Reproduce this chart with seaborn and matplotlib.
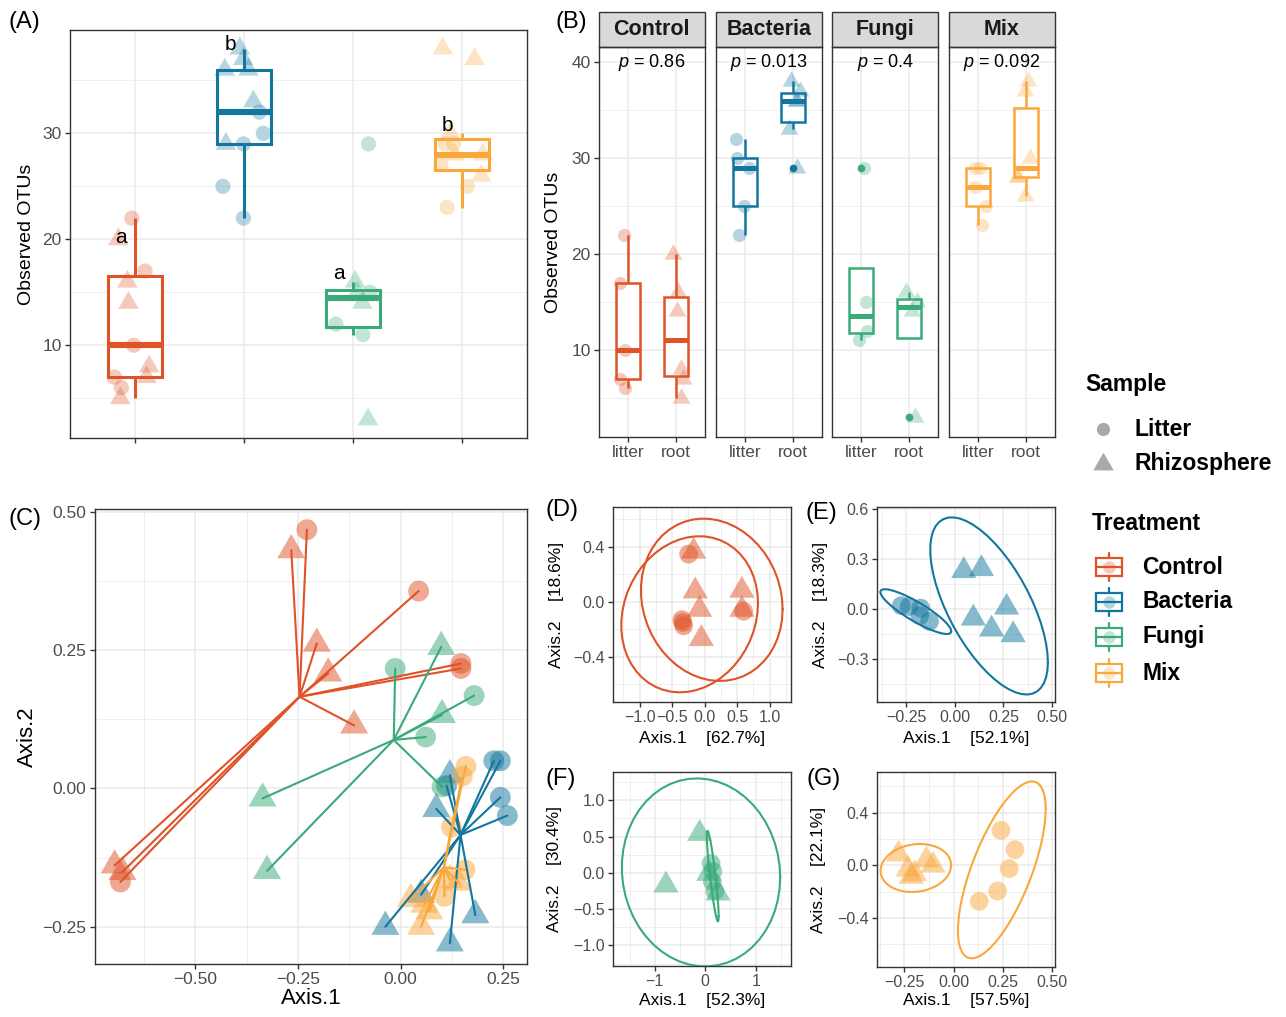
import numpy as np
import pandas as pd
import matplotlib
matplotlib.use("Agg")
import matplotlib.pyplot as plt
import seaborn as sns
from matplotlib.lines import Line2D
from matplotlib.patches import Rectangle
from matplotlib.ticker import MultipleLocator, FuncFormatter, NullLocator

sns.set_theme(style="white")
plt.rcParams["font.family"] = ["Liberation Sans", "DejaVu Sans"]
plt.rcParams["mathtext.fontset"] = "custom"
plt.rcParams["mathtext.rm"] = "Liberation Sans"
plt.rcParams["mathtext.it"] = "Liberation Sans:italic"
plt.rcParams["axes.unicode_minus"] = True

# ------------------------------------------------------------------ data
treatments = ["Control", "Bacteria", "Fungi", "Mix"]
samples = ["Litter", "Rhizosphere"]
sample_ticks = ["litter", "root"]
palette = {"Control": "#E05227", "Bacteria": "#12769E",
           "Fungi": "#3AAA78", "Mix": "#FAA83C"}

# observed OTUs per treatment
otus_litter = {"Control": [6, 7, 10, 17, 22],
               "Bacteria": [22, 25, 29, 30, 32],
               "Fungi": [11, 12, 15, 29],
               "Mix": [23, 25, 27, 29, 29]}
otus_root = {"Control": [5, 7, 8, 14, 16, 20],
             "Bacteria": [29, 33, 36, 36, 37, 38],
             "Fungi": [3, 14, 15, 16],
             "Mix": [26, 28, 28, 30, 37, 38]}
group_letters = ["a", "b", "a", "b"]
letter_y = [20.2, 38.4, 16.8, 30.7]
wilcox_p = [0.86, 0.013, 0.4, 0.092]

# PCoA of all samples
all_litter_ax1 = {"Control": [-0.228, 0.044, 0.147, 0.147, -0.682],
                  "Bacteria": [0.227, 0.243, 0.243, 0.260, 0.112],
                  "Fungi": [-0.013, 0.179, 0.061, 0.101],
                  "Mix": [0.159, 0.150, 0.124, 0.157, 0.107]}
all_litter_ax2 = {"Control": [0.468, 0.357, 0.226, 0.217, -0.169],
                  "Bacteria": [0.050, 0.050, -0.016, -0.049, 0.005],
                  "Fungi": [0.217, 0.168, 0.093, 0.003],
                  "Mix": [0.040, 0.022, -0.070, -0.147, -0.195]}
all_root_ax1 = {"Control": [-0.266, -0.204, -0.176, -0.113, -0.696, -0.677],
                "Bacteria": [0.120, 0.087, -0.037, 0.182, 0.120, 0.050],
                "Fungi": [0.099, 0.101, -0.336, -0.325],
                "Mix": [0.025, 0.058, 0.070, 0.050, 0.120, 0.140]}
all_root_ax2 = {"Control": [0.431, 0.262, 0.208, 0.114, -0.139, -0.151],
                "Bacteria": [0.024, -0.037, -0.250, -0.229, -0.280, -0.192],
                "Fungi": [0.256, 0.133, -0.018, -0.149],
                "Mix": [-0.200, -0.210, -0.222, -0.250, -0.165, -0.170]}

# PCoA within each treatment
sub_litter_ax1 = {"Control": [-0.246, 0.600, -0.349, -0.323, -0.335],
                  "Bacteria": [-0.275, -0.235, -0.175, -0.180, -0.130],
                  "Fungi": [0.115, 0.150, 0.140, 0.190],
                  "Mix": [0.239, 0.310, 0.281, 0.222, 0.129]}
sub_litter_ax2 = {"Control": [0.347, -0.068, -0.130, -0.174, -0.150],
                  "Bacteria": [0.020, 0.015, 0.005, -0.040, -0.075],
                  "Fungi": [0.130, 0.020, -0.120, -0.250],
                  "Mix": [0.266, 0.119, -0.025, -0.195, -0.273]}
sub_root_ax1 = {"Control": [-0.169, -0.144, -0.077, 0.574, 0.574, -0.051],
                "Bacteria": [0.046, 0.137, 0.266, 0.095, 0.189, 0.300],
                "Fungi": [-0.780, -0.112, 0.066, 0.250],
                "Mix": [-0.280, -0.232, -0.198, -0.215, -0.139, -0.105]}
sub_root_ax2 = {"Control": [0.367, 0.078, -0.056, 0.083, -0.056, -0.269],
                "Bacteria": [0.230, 0.242, 0.010, -0.056, -0.122, -0.156],
                "Fungi": [-0.170, 0.541, -0.010, -0.280],
                "Mix": [0.085, -0.030, -0.065, -0.085, 0.040, 0.000]}
sub_pct1 = {"Control": 62.7, "Bacteria": 52.1, "Fungi": 52.3, "Mix": 57.5}
sub_pct2 = {"Control": 18.6, "Bacteria": 18.3, "Fungi": 30.4, "Mix": 22.1}

# ------------------------------------------------------------------ tables
otu = pd.DataFrame(
    [(t, "Litter", v) for t in treatments for v in otus_litter[t]] +
    [(t, "Rhizosphere", v) for t in treatments for v in otus_root[t]],
    columns=["Treatment", "Sample", "OTUs"])


def pcoa_table(l1, l2, r1, r2):
    rows = []
    for t in treatments:
        rows += [(t, "Litter", a, b) for a, b in zip(l1[t], l2[t])]
        rows += [(t, "Rhizosphere", a, b) for a, b in zip(r1[t], r2[t])]
    return pd.DataFrame(rows, columns=["Treatment", "Sample", "Axis.1", "Axis.2"])


pc_all = pcoa_table(all_litter_ax1, all_litter_ax2, all_root_ax1, all_root_ax2)
pc_sub = pcoa_table(sub_litter_ax1, sub_litter_ax2, sub_root_ax1, sub_root_ax2)

# ------------------------------------------------------------------ helpers
W, H = 1286, 1017
fig = plt.figure(figsize=(W / 100, H / 100), dpi=100)
fig.patch.set_facecolor("white")

GRID, FRAME, TICKTXT = "#EBEBEB", "#333333", "#4D4D4D"
# R-style filled triangle (centroid at the data point)
TRI = [(0.0, 1.5551), (-1.3468, -0.7776), (1.3468, -0.7776)]
TRI_SCALE = 1.5551


def rect(x0, y0, x1, y1):
    return [x0 / W, 1 - y1 / H, (x1 - x0) / W, (y1 - y0) / H]


def decimals(n):
    def f(v, pos):
        s = f"{v:.{n}f}"
        if float(s) == 0:
            s = f"{0:.{n}f}"
        return s.replace("-", "\u2212")
    return FuncFormatter(f)


def theme_bw(ax, ticksize):
    ax.set_facecolor("white")
    for sp in ax.spines.values():
        sp.set_visible(True)
        sp.set_color(FRAME)
        sp.set_linewidth(1.0)
    ax.grid(True, which="major", color=GRID, linewidth=1.1)
    ax.grid(True, which="minor", color=GRID, linewidth=0.55)
    ax.set_axisbelow(True)
    ax.tick_params(which="major", direction="out", length=3.6, width=1.0,
                   color=FRAME, labelsize=ticksize, labelcolor=TICKTXT, pad=2.5,
                   bottom=True, left=True)
    ax.tick_params(which="minor", length=0, bottom=True, left=True)


def place_labels(ax, ylabel_x=None, xlabel_y=None):
    if ylabel_x is not None:
        bb = ax.get_position()
        ax.yaxis.set_label_coords((ylabel_x / W - bb.x0) / bb.width, 0.5)
        ax.yaxis.label.set_verticalalignment("center")
    if xlabel_y is not None:
        bb = ax.get_position()
        ax.xaxis.set_label_coords(0.5, ((1 - xlabel_y / H) - bb.y0) / bb.height)
        ax.xaxis.label.set_verticalalignment("center")


def cov_trob(X, nu=5, maxit=25, tol=0.01):
    n, p = X.shape
    loc = X.mean(axis=0)
    w = np.ones(n)
    for _ in range(maxit):
        w0 = w
        Xc = X - loc
        _, d, vt = np.linalg.svd(np.sqrt(w / w.sum())[:, None] * Xc, full_matrices=False)
        wX = Xc @ vt.T @ np.diag(1 / d)
        Q = (wX ** 2).sum(axis=1)
        w = (nu + p) / (nu + Q)
        loc = (w[:, None] * X).sum(axis=0) / w.sum()
        if np.all(np.abs(w - w0) < tol):
            break
    sw = np.sqrt(w)[:, None] * Xc
    return loc, sw.T @ sw / n


def t_ellipse(x, y, level=0.95, segments=51):
    X = np.column_stack([x, y])
    center, shape = cov_trob(X)
    dfd = len(X) - 1
    fq = dfd / 2 * ((1 - level) ** (-2 / dfd) - 1)
    radius = np.sqrt(2 * fq)
    ang = np.linspace(0, 2 * np.pi, segments + 1)
    unit = np.column_stack([np.cos(ang), np.sin(ang)])
    pts = center + radius * (unit @ np.linalg.cholesky(shape).T)
    return pts[:, 0], pts[:, 1]


def tag(x, y, s):
    fig.text(x / W, 1 - y / H, s, ha="center", va="center", fontsize=17, color="black")


np.random.seed(11)

# ------------------------------------------------------------------ (A)
axA = fig.add_axes(rect(70, 30, 527, 438))
for t in treatments:
    sns.boxplot(data=otu[otu.Treatment == t], x="Treatment", y="OTUs", order=treatments,
                color="white", linecolor=palette[t], linewidth=2.2, width=0.5,
                showfliers=False, showcaps=False,
                medianprops=dict(linewidth=4.4, solid_capstyle="butt"), ax=axA)
for s, mk, sz in [("Litter", "o", 11), ("Rhizosphere", TRI, 11 * TRI_SCALE)]:
    sns.stripplot(data=otu[otu.Sample == s], x="Treatment", y="OTUs", order=treatments,
                  hue="Treatment", hue_order=treatments, palette=palette, marker=mk,
                  size=sz, alpha=0.3, jitter=0.2, linewidth=0, legend=False,
                  zorder=3, ax=axA)
lo, hi = otu.OTUs.min(), otu.OTUs.max()
axA.set_ylim(lo - 0.05 * (hi - lo), hi + 0.05 * (hi - lo))
axA.set_xlim(-0.6, 3.6)
theme_bw(axA, 12.5)
axA.set_xticks(range(4))
axA.set_xticklabels([])
axA.xaxis.set_minor_locator(NullLocator())
axA.yaxis.set_major_locator(MultipleLocator(10))
axA.yaxis.set_minor_locator(MultipleLocator(5))
axA.set_xlabel("")
axA.set_ylabel("Observed OTUs", fontsize=14, color="black")
place_labels(axA, ylabel_x=27)
for i, (lt, ly) in enumerate(zip(group_letters, letter_y)):
    axA.text(i - 0.13, ly, lt, ha="center", va="center", fontsize=15, color="black")
tag(24, 22, "(A)")

# ------------------------------------------------------------------ (B)
facet_left = [599, 716, 832.5, 949]
facet_w = 105.5
for i, t in enumerate(treatments):
    ax = fig.add_axes(rect(facet_left[i], 47, facet_left[i] + facet_w, 437))
    sub = otu[otu.Treatment == t]
    col = palette[t]
    sns.boxplot(data=sub, x="Sample", y="OTUs", order=samples, color="white",
                linecolor=col, linewidth=1.8, width=0.5, showcaps=False,
                flierprops=dict(marker="o", markerfacecolor=col, markeredgecolor=col,
                                markersize=4.5),
                medianprops=dict(linewidth=3.6, solid_capstyle="butt"), ax=ax)
    for s, mk, sz in [("Litter", "o", 9.5), ("Rhizosphere", TRI, 9.5 * TRI_SCALE)]:
        sns.stripplot(data=sub[sub.Sample == s], x="Sample", y="OTUs", order=samples,
                      color=col, marker=mk, size=sz, alpha=0.3, jitter=0.18,
                      linewidth=0, zorder=3, ax=ax)
    ax.set_ylim(0.9, 41.6)
    ax.set_xlim(-0.6, 1.6)
    theme_bw(ax, 12.5)
    ax.set_xticks([0, 1])
    ax.set_xticklabels(sample_ticks)
    ax.xaxis.set_minor_locator(NullLocator())
    ax.yaxis.set_major_locator(MultipleLocator(10))
    ax.yaxis.set_minor_locator(MultipleLocator(5))
    ax.set_xlabel("")
    if i == 0:
        ax.set_ylabel("Observed OTUs", fontsize=14, color="black")
        place_labels(ax, ylabel_x=554)
    else:
        ax.set_ylabel("")
        ax.tick_params(axis="y", which="both", length=0, labelleft=False)
    strip_h = 35 / 390
    ax.add_patch(Rectangle((0, 1), 1, strip_h, transform=ax.transAxes, clip_on=False,
                           facecolor="#D9D9D9", edgecolor=FRAME, linewidth=1.0))
    ax.text(0.5, 1 + strip_h / 2, t, transform=ax.transAxes, ha="center", va="center",
            fontsize=15.5, fontweight="bold", color="#1A1A1A")
    ax.text(0.5, 40.0, f"$p$ = {wilcox_p[i]}", ha="center", va="center",
            fontsize=13, color="black")
tag(571, 22, "(B)")

# ------------------------------------------------------------------ (C)
axC = fig.add_axes(rect(95, 509, 527, 964))
sns.scatterplot(data=pc_all, x="Axis.1", y="Axis.2", hue="Treatment", hue_order=treatments,
                palette=palette, style="Sample", markers={"Litter": "o", "Rhizosphere": TRI},
                size="Sample", sizes={"Litter": 15 ** 2, "Rhizosphere": (15 * TRI_SCALE) ** 2},
                alpha=0.5, linewidth=0, legend=False, ax=axC)
cent = pc_all.groupby("Treatment")[["Axis.1", "Axis.2"]].mean()
for _, r in pc_all.iterrows():
    cx, cy = cent.loc[r.Treatment]
    axC.plot([cx, r["Axis.1"]], [cy, r["Axis.2"]], color=palette[r.Treatment],
             lw=1.5, zorder=3)
for c in ["Axis.1", "Axis.2"]:
    lo, hi = pc_all[c].min(), pc_all[c].max()
    lim = (lo - 0.05 * (hi - lo), hi + 0.05 * (hi - lo))
    (axC.set_xlim if c == "Axis.1" else axC.set_ylim)(lim)
theme_bw(axC, 12.5)
for a in (axC.xaxis, axC.yaxis):
    a.set_major_locator(MultipleLocator(0.25))
    a.set_minor_locator(MultipleLocator(0.125))
    a.set_major_formatter(decimals(2))
axC.set_xlabel("Axis.1", fontsize=16, color="black")
axC.set_ylabel("Axis.2", fontsize=16, color="black")
place_labels(axC, ylabel_x=27, xlabel_y=999)
tag(25, 519, "(C)")

# ------------------------------------------------------------------ (D)-(G)
sub_layout = {
    "Control": dict(tag="(D)", box=(613, 507, 791, 702), xlim=(-1.41, 1.33),
                    ylim=(-0.729, 0.69), xs=0.5, ys=0.4, xd=1, yd=1,
                    tagxy=(562, 510), ylx=556, xly=739),
    "Bacteria": dict(tag="(E)", box=(877, 507, 1055, 702), xlim=(-0.40, 0.515),
                     ylim=(-0.56, 0.614), xs=0.25, ys=0.3, xd=2, yd=1,
                     tagxy=(821, 513), ylx=820, xly=739),
    "Fungi": dict(tag="(F)", box=(613, 772, 791, 966), xlim=(-1.83, 1.70),
                  ylim=(-1.284, 1.39), xs=1.0, ys=0.5, xd=0, yd=1,
                  tagxy=(561, 779), ylx=555, xly=1001),
    "Mix": dict(tag="(G)", box=(877, 772, 1055, 967), xlim=(-0.389, 0.513),
                ylim=(-0.772, 0.709), xs=0.25, ys=0.4, xd=2, yd=1,
                tagxy=(824, 779), ylx=818, xly=1001),
}
for t in treatments:
    L = sub_layout[t]
    ax = fig.add_axes(rect(*L["box"]))
    d = pc_sub[pc_sub.Treatment == t]
    sns.scatterplot(data=d, x="Axis.1", y="Axis.2", color=palette[t], style="Sample",
                    markers={"Litter": "o", "Rhizosphere": TRI}, size="Sample",
                    sizes={"Litter": 13.5 ** 2, "Rhizosphere": (13.5 * TRI_SCALE) ** 2},
                    alpha=0.5, linewidth=0, legend=False, ax=ax)
    for s in samples:
        ds = d[d.Sample == s]
        ex, ey = t_ellipse(ds["Axis.1"].to_numpy(), ds["Axis.2"].to_numpy())
        ax.plot(ex, ey, color=palette[t], lw=1.5, zorder=3)
    ax.set_xlim(L["xlim"])
    ax.set_ylim(L["ylim"])
    theme_bw(ax, 11.5)
    ax.xaxis.set_major_locator(MultipleLocator(L["xs"]))
    ax.xaxis.set_minor_locator(MultipleLocator(L["xs"] / 2))
    ax.yaxis.set_major_locator(MultipleLocator(L["ys"]))
    ax.yaxis.set_minor_locator(MultipleLocator(L["ys"] / 2))
    ax.xaxis.set_major_formatter(decimals(L["xd"]))
    ax.yaxis.set_major_formatter(decimals(L["yd"]))
    ax.set_xlabel(f"Axis.1    [{sub_pct1[t]}%]", fontsize=12.5, color="black")
    ax.set_ylabel(f"Axis.2    [{sub_pct2[t]}%]", fontsize=12.5, color="black")
    place_labels(ax, ylabel_x=L["ylx"], xlabel_y=L["xly"])
    tag(*L["tagxy"], L["tag"])

# ------------------------------------------------------------------ legends
LEG = dict(fontsize=16.5, fontweight="bold", color="black", va="center", ha="left")
fig.text(1085 / W, 1 - 384 / H, "Sample", **LEG)
key_grey = "#A9A9A9"
for y, mk, ms, lab in [(429, "o", 9.5, "Litter"), (464, TRI, 9.5 * TRI_SCALE * 1.15, "Rhizosphere")]:
    fig.add_artist(Line2D([1103 / W], [1 - y / H], marker=mk, markersize=ms, linestyle="none",
                          markerfacecolor=key_grey, markeredgewidth=0,
                          transform=fig.transFigure))
    fig.text(1135 / W, 1 - y / H, lab, **LEG)

fig.text(1092 / W, 1 - 523 / H, "Treatment", **LEG)
for t, y in zip(treatments, [567, 601.5, 636.5, 673]):
    col = palette[t]
    fig.add_artist(Line2D([1109 / W], [1 - y / H], marker="o", markersize=9,
                          linestyle="none", markerfacecolor=col, alpha=0.3,
                          markeredgewidth=0, transform=fig.transFigure))
    fig.add_artist(Rectangle((1096 / W, 1 - (y + 9) / H), 26 / W, 18 / H,
                             transform=fig.transFigure, facecolor="none",
                             edgecolor=col, linewidth=1.6))
    fig.add_artist(Line2D([1096 / W, 1122 / W], [1 - y / H, 1 - y / H], color=col,
                          lw=1.6, transform=fig.transFigure))
    for y0, y1 in [(y - 14, y - 9), (y + 9, y + 14)]:
        fig.add_artist(Line2D([1109 / W, 1109 / W], [1 - y0 / H, 1 - y1 / H], color=col,
                              lw=1.6, transform=fig.transFigure))
    fig.text(1142 / W, 1 - y / H, t, **LEG)

fig.savefig("out.png", dpi=100, facecolor="white")
